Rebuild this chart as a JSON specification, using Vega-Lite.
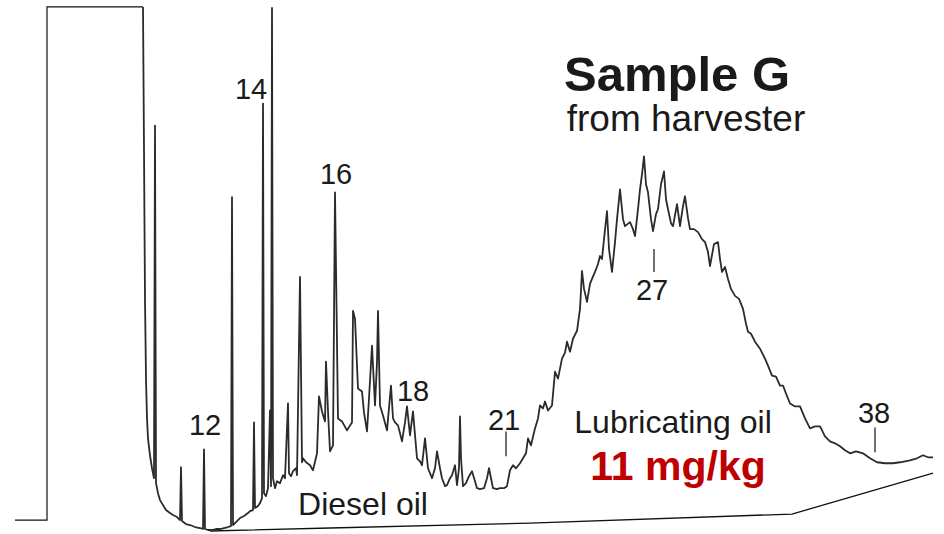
{
  "$schema": "https://vega.github.io/schema/vega-lite/v6.json",
  "width": 944,
  "height": 534,
  "autosize": {"type": "fit", "contains": "padding"},
  "padding": 0,
  "background": "white",
  "config": {"view": {"stroke": null}, "font": "Liberation Sans"},
  "datasets": {
    "solvent": [
      {"t":15,"s":12},{"t":47,"s":12},{"t":47,"s":527},{"t":143,"s":527}
    ],
    "trace": [
      {"t":143,"s":527},{"t":144,"s":384},{"t":145,"s":234},{"t":146,"s":154},{"t":147,"s":114},{"t":148,"s":94},{"t":150,"s":77},{"t":152,"s":64},{"t":154,"s":54},{"t":155,"s":408},{"t":156,"s":49},{"t":158,"s":39},{"t":160,"s":32},{"t":163,"s":27},{"t":166,"s":22},{"t":170,"s":19},{"t":173,"s":17},{"t":177,"s":15},{"t":180,"s":12},{"t":181,"s":65},{"t":182,"s":11},{"t":186,"s":8},{"t":190,"s":7},{"t":195,"s":5},{"t":200,"s":4},{"t":203,"s":3},{"t":204,"s":83},{"t":205,"s":3},{"t":208,"s":2},{"t":212,"s":2},{"t":216,"s":3},{"t":220,"s":3},{"t":224,"s":4},{"t":228,"s":5},{"t":231,"s":6},{"t":232,"s":336},{"t":233,"s":7},{"t":236,"s":10},{"t":240,"s":14},{"t":244,"s":16},{"t":248,"s":19},{"t":250,"s":21},{"t":253,"s":22},{"t":254,"s":110},{"t":255,"s":24},{"t":258,"s":26},{"t":260,"s":29},{"t":262,"s":34},{"t":263,"s":430},{"t":264,"s":39},{"t":266,"s":36},{"t":268,"s":44},{"t":270,"s":122},{"t":271,"s":46},{"t":272,"s":526},{"t":273,"s":54},{"t":275,"s":44},{"t":277,"s":51},{"t":280,"s":49},{"t":283,"s":57},{"t":285,"s":54},{"t":288,"s":129},{"t":289,"s":59},{"t":291,"s":56},{"t":293,"s":61},{"t":296,"s":64},{"t":297,"s":57},{"t":300,"s":256},{"t":302,"s":70},{"t":303,"s":74},{"t":306,"s":70},{"t":310,"s":67},{"t":313,"s":62},{"t":317,"s":79},{"t":319,"s":136},{"t":322,"s":121},{"t":325,"s":111},{"t":326,"s":171},{"t":328,"s":121},{"t":330,"s":81},{"t":333,"s":87},{"t":335,"s":341},{"t":338,"s":114},{"t":342,"s":111},{"t":347,"s":102},{"t":350,"s":107},{"t":352,"s":110},{"t":353,"s":222},{"t":355,"s":214},{"t":358,"s":144},{"t":362,"s":141},{"t":364,"s":120},{"t":367,"s":101},{"t":369,"s":134},{"t":372,"s":187},{"t":375,"s":127},{"t":377,"s":170},{"t":378,"s":222},{"t":380,"s":127},{"t":383,"s":117},{"t":387,"s":102},{"t":391,"s":147},{"t":393,"s":114},{"t":395,"s":110},{"t":398,"s":107},{"t":402,"s":91},{"t":405,"s":110},{"t":407,"s":126},{"t":410,"s":97},{"t":413,"s":121},{"t":417,"s":74},{"t":420,"s":71},{"t":422,"s":67},{"t":425,"s":94},{"t":428,"s":64},{"t":432,"s":54},{"t":435,"s":64},{"t":437,"s":81},{"t":440,"s":64},{"t":442,"s":54},{"t":445,"s":46},{"t":447,"s":47},{"t":450,"s":54},{"t":452,"s":57},{"t":455,"s":67},{"t":457,"s":47},{"t":459,"s":64},{"t":460,"s":116},{"t":461,"s":74},{"t":463,"s":46},{"t":466,"s":49},{"t":469,"s":56},{"t":472,"s":61},{"t":475,"s":51},{"t":477,"s":44},{"t":480,"s":43},{"t":484,"s":44},{"t":487,"s":54},{"t":489,"s":64},{"t":491,"s":54},{"t":493,"s":44},{"t":497,"s":43},{"t":500,"s":44},{"t":504,"s":44},{"t":507,"s":46},{"t":510,"s":62},{"t":513,"s":67},{"t":516,"s":64},{"t":520,"s":69},{"t":523,"s":74},{"t":526,"s":79},{"t":528,"s":94},{"t":531,"s":87},{"t":535,"s":104},{"t":538,"s":114},{"t":540,"s":127},{"t":543,"s":124},{"t":545,"s":131},{"t":548,"s":122},{"t":552,"s":127},{"t":555,"s":161},{"t":558,"s":154},{"t":562,"s":174},{"t":565,"s":180},{"t":567,"s":191},{"t":570,"s":181},{"t":573,"s":194},{"t":577,"s":202},{"t":580,"s":224},{"t":582,"s":262},{"t":584,"s":244},{"t":587,"s":231},{"t":590,"s":249},{"t":592,"s":254},{"t":595,"s":261},{"t":598,"s":269},{"t":600,"s":277},{"t":602,"s":274},{"t":604,"s":294},{"t":607,"s":322},{"t":609,"s":284},{"t":612,"s":261},{"t":615,"s":291},{"t":617,"s":314},{"t":620,"s":344},{"t":623,"s":314},{"t":625,"s":307},{"t":630,"s":311},{"t":633,"s":304},{"t":635,"s":297},{"t":638,"s":324},{"t":640,"s":344},{"t":642,"s":359},{"t":644,"s":377},{"t":646,"s":349},{"t":648,"s":341},{"t":651,"s":314},{"t":653,"s":302},{"t":656,"s":319},{"t":658,"s":324},{"t":661,"s":349},{"t":664,"s":362},{"t":666,"s":334},{"t":668,"s":324},{"t":671,"s":310},{"t":673,"s":307},{"t":677,"s":329},{"t":680,"s":307},{"t":683,"s":327},{"t":685,"s":337},{"t":688,"s":315},{"t":690,"s":304},{"t":694,"s":304},{"t":698,"s":301},{"t":702,"s":294},{"t":705,"s":291},{"t":708,"s":281},{"t":710,"s":267},{"t":714,"s":289},{"t":718,"s":291},{"t":720,"s":274},{"t":722,"s":261},{"t":725,"s":266},{"t":728,"s":254},{"t":731,"s":244},{"t":735,"s":237},{"t":739,"s":234},{"t":743,"s":224},{"t":746,"s":209},{"t":748,"s":201},{"t":751,"s":199},{"t":755,"s":191},{"t":760,"s":184},{"t":765,"s":174},{"t":768,"s":167},{"t":772,"s":157},{"t":776,"s":156},{"t":780,"s":147},{"t":783,"s":147},{"t":786,"s":139},{"t":790,"s":129},{"t":795,"s":126},{"t":800,"s":126},{"t":805,"s":114},{"t":810,"s":104},{"t":815,"s":106},{"t":820,"s":106},{"t":825,"s":96},{"t":830,"s":91},{"t":835,"s":89},{"t":840,"s":86},{"t":845,"s":82},{"t":850,"s":79},{"t":856,"s":81},{"t":863,"s":79},{"t":870,"s":74},{"t":877,"s":70},{"t":885,"s":69},{"t":893,"s":69},{"t":900,"s":70},{"t":910,"s":72},{"t":917,"s":74},{"t":923,"s":77},{"t":928,"s":75},{"t":933,"s":75}
    ],
    "baseline": [
      {"t":210,"s":1},{"t":330,"s":4},{"t":530,"s":9},{"t":792,"s":18},{"t":933,"s":59}
    ],
    "ticks": [
      {"t":506,"s1":101,"s2":76},{"t":654,"s1":284,"s2":261},{"t":875,"s1":105,"s2":80}
    ],
    "labels": [
      {"kind":"num","t":251,"s":435,"text":"14"},
      {"kind":"num","t":205,"s":97,"text":"12"},
      {"kind":"num","t":336,"s":349,"text":"16"},
      {"kind":"num","t":413,"s":131,"text":"18"},
      {"kind":"num","t":504,"s":102,"text":"21"},
      {"kind":"num","t":652,"s":233,"text":"27"},
      {"kind":"num","t":874,"s":109,"text":"38"},
      {"kind":"note","t":363,"s":17,"text":"Diesel oil"},
      {"kind":"note","t":673,"s":99,"text":"Lubricating oil"},
      {"kind":"conc","t":678,"s":52,"text":"11 mg/kg"},
      {"kind":"title","t":677,"s":443,"text":"Sample G"},
      {"kind":"sub","t":686,"s":403,"text":"from harvester"}
    ]
  },
  "encoding": {
    "x": {"field": "t", "type": "quantitative", "scale": {"domain": [0, 944], "nice": false, "zero": false}, "axis": null},
    "y": {"field": "s", "type": "quantitative", "scale": {"domain": [0, 534], "nice": false, "zero": false}, "axis": null}
  },
  "layer": [
    {
      "data": {"name": "baseline"},
      "mark": {"type": "line", "color": "#111111", "strokeWidth": 1.3, "clip": false},
      "encoding": {"order": {"value": null}}
    },
    {
      "data": {"name": "solvent"},
      "mark": {"type": "line", "color": "#111111", "strokeWidth": 1.2, "clip": false},
      "encoding": {"order": {"value": null}}
    },
    {
      "data": {"name": "trace"},
      "mark": {"type": "line", "color": "#2b2b2b", "strokeWidth": 1.8, "strokeJoin": "round", "clip": false},
      "encoding": {"order": {"value": null}}
    },
    {
      "data": {"name": "ticks"},
      "mark": {"type": "rule", "color": "#111111", "strokeWidth": 1.2},
      "encoding": {"y": {"field": "s1", "type": "quantitative"}, "y2": {"field": "s2"}}
    },
    {
      "data": {"name": "labels"},
      "transform": [{"filter": "datum.kind === 'num'"}],
      "mark": {"type": "text", "font": "Liberation Sans", "fontSize": 29, "color": "#1a1a1a", "align": "center", "baseline": "alphabetic"},
      "encoding": {"text": {"field": "text"}}
    },
    {
      "data": {"name": "labels"},
      "transform": [{"filter": "datum.kind === 'note'"}],
      "mark": {"type": "text", "font": "Liberation Sans", "fontSize": 32, "color": "#1a1a1a", "align": "center", "baseline": "alphabetic"},
      "encoding": {"text": {"field": "text"}}
    },
    {
      "data": {"name": "labels"},
      "transform": [{"filter": "datum.kind === 'conc'"}],
      "mark": {"type": "text", "font": "Liberation Sans", "fontSize": 41, "fontWeight": "bold", "color": "#c00000", "align": "center", "baseline": "alphabetic"},
      "encoding": {"text": {"field": "text"}}
    },
    {
      "data": {"name": "labels"},
      "transform": [{"filter": "datum.kind === 'title'"}],
      "mark": {"type": "text", "font": "Liberation Sans", "fontSize": 49, "fontWeight": "bold", "color": "#1a1a1a", "align": "center", "baseline": "alphabetic"},
      "encoding": {"text": {"field": "text"}}
    },
    {
      "data": {"name": "labels"},
      "transform": [{"filter": "datum.kind === 'sub'"}],
      "mark": {"type": "text", "font": "Liberation Sans", "fontSize": 37, "color": "#1a1a1a", "align": "center", "baseline": "alphabetic"},
      "encoding": {"text": {"field": "text"}}
    }
  ]
}
